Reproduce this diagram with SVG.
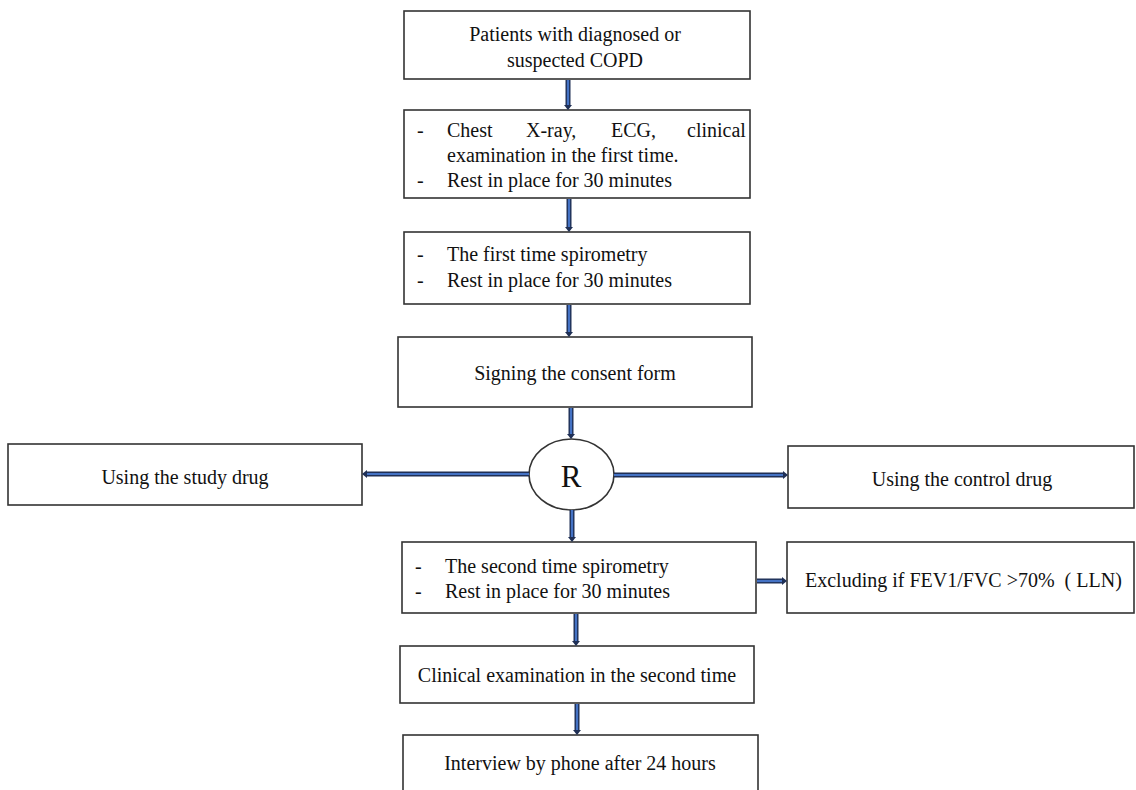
<svg xmlns="http://www.w3.org/2000/svg" width="1136" height="790" viewBox="0 0 1136 790">
<defs>
<style>
.box{fill:#fff;stroke:#333;stroke-width:1.6}
.t{font-family:"Liberation Serif","Times New Roman",serif;font-size:20px;fill:#111}
.c{text-anchor:middle}
.ao{stroke:#1f2f55;stroke-width:5;fill:none}
.ai{stroke:#4472c4;stroke-width:2.2;fill:none}
.ah{fill:#1f2f55}
</style>
</defs>
<rect width="1136" height="790" fill="#fff"/>
<g id="n1">
<rect class="box" x="404" y="11" width="346" height="68"/>
<text class="t c" x="575" y="41">Patients with diagnosed or</text>
<text class="t c" x="575" y="67">suspected COPD</text>
</g>
<g id="n2">
<rect class="box" x="404" y="110" width="346" height="88"/>
<text class="t" x="417" y="137">-</text>
<text class="t" x="447" y="137">Chest</text>
<text class="t" x="526" y="137">X-ray,</text>
<text class="t" x="611" y="137">ECG,</text>
<text class="t" x="687" y="137">clinical</text>
<text class="t" x="447" y="162">examination in the first time.</text>
<text class="t" x="417" y="187">-</text>
<text class="t" x="447" y="187">Rest in place for 30 minutes</text>
</g>
<g id="n3">
<rect class="box" x="404" y="232" width="346" height="72"/>
<text class="t" x="417" y="261">-</text>
<text class="t" x="447" y="261">The first time spirometry</text>
<text class="t" x="417" y="287">-</text>
<text class="t" x="447" y="287">Rest in place for 30 minutes</text>
</g>
<g id="n4">
<rect class="box" x="398" y="337" width="354" height="70"/>
<text class="t c" x="575" y="380">Signing the consent form</text>
</g>
<g id="nR">
<ellipse class="box" cx="571.5" cy="474.5" rx="42.5" ry="35.5"/>
<text class="t c" x="571" y="487" style="font-size:31px">R</text>
</g>
<g id="nStudy">
<rect class="box" x="8" y="444" width="354" height="61"/>
<text class="t c" x="185" y="484">Using the study drug</text>
</g>
<g id="nControl">
<rect class="box" x="788" y="446" width="346" height="62"/>
<text class="t c" x="962" y="486">Using the control drug</text>
</g>
<g id="n5">
<rect class="box" x="402" y="542" width="354" height="71"/>
<text class="t" x="415" y="573">-</text>
<text class="t" x="445" y="573">The second time spirometry</text>
<text class="t" x="415" y="598">-</text>
<text class="t" x="445" y="598">Rest in place for 30 minutes</text>
</g>
<g id="nExcl">
<rect class="box" x="787" y="542" width="347" height="71"/>
<text class="t" x="805" y="587">Excluding if FEV1/FVC &gt;70%&#160; ( LLN)</text>
</g>
<g id="n6">
<rect class="box" x="400" y="646" width="354" height="57"/>
<text class="t c" x="577" y="682">Clinical examination in the second time</text>
</g>
<g id="n7">
<rect class="box" x="403" y="735" width="355" height="70"/>
<text class="t c" x="580" y="770">Interview by phone after 24 hours</text>
</g>
<g id="connectors">
<line class="ao" x1="568" y1="80" x2="568" y2="106"/><line class="ai" x1="568" y1="80" x2="568" y2="106"/><polygon class="ah" points="564,105 572,105 568,110"/>
<line class="ao" x1="569" y1="199" x2="569" y2="228"/><line class="ai" x1="569" y1="199" x2="569" y2="228"/><polygon class="ah" points="565,227 573,227 569,232"/>
<line class="ao" x1="569" y1="305" x2="569" y2="333"/><line class="ai" x1="569" y1="305" x2="569" y2="333"/><polygon class="ah" points="565,332 573,332 569,337"/>
<line class="ao" x1="571" y1="408" x2="571" y2="435"/><line class="ai" x1="571" y1="408" x2="571" y2="435"/><polygon class="ah" points="567,434 575,434 571,439"/>
<line class="ao" x1="529" y1="474" x2="366" y2="474"/><line class="ai" x1="529" y1="474" x2="366" y2="474"/><polygon class="ah" points="367,470 367,478 362,474"/>
<line class="ao" x1="614" y1="475" x2="784" y2="475"/><line class="ai" x1="614" y1="475" x2="784" y2="475"/><polygon class="ah" points="783,471 783,479 788,475"/>
<line class="ao" x1="572" y1="510" x2="572" y2="538"/><line class="ai" x1="572" y1="510" x2="572" y2="538"/><polygon class="ah" points="568,537 576,537 572,542"/>
<line class="ao" x1="757" y1="581" x2="783" y2="581"/><line class="ai" x1="757" y1="581" x2="783" y2="581"/><polygon class="ah" points="782,577 782,585 787,581"/>
<line class="ao" x1="576" y1="614" x2="576" y2="642"/><line class="ai" x1="576" y1="614" x2="576" y2="642"/><polygon class="ah" points="572,641 580,641 576,646"/>
<line class="ao" x1="577" y1="704" x2="577" y2="731"/><line class="ai" x1="577" y1="704" x2="577" y2="731"/><polygon class="ah" points="573,730 581,730 577,735"/>
</g>
</svg>
